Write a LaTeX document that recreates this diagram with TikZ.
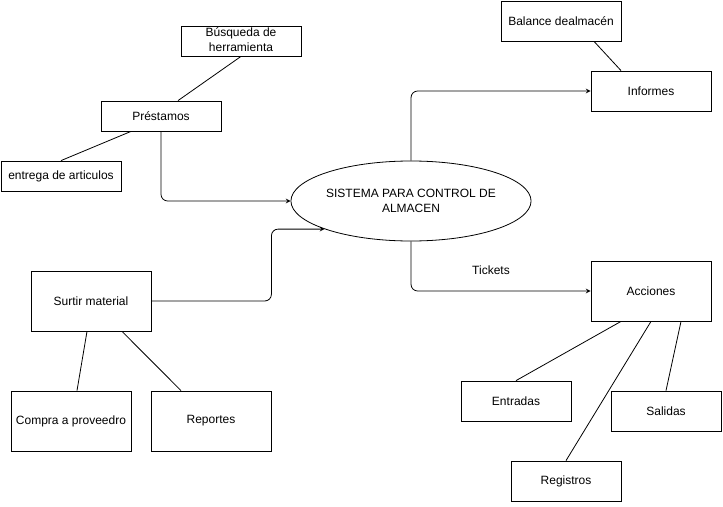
\documentclass[tikz,border=0pt]{standalone}
\usepackage{fontspec}
\setmainfont{Liberation Sans}
\usetikzlibrary{shapes.geometric,calc}
\begin{document}
\begin{tikzpicture}[x=0.75pt, y=-0.75pt, line width=0.6pt,
    caja/.style ={rectangle, draw, inner sep=1pt, minimum width=90pt,
      minimum height=22.5pt, font=\fontsize{9}{11.25}\selectfont, align=center},
    sistema/.style ={ellipse, draw, inner sep=0pt, minimum width=180pt,
      minimum height=60pt, font=\fontsize{9}{11.25}\selectfont, align=center},
    flecha/.style ={->, >=stealth, rounded corners=5pt}]
   \useasboundingbox (0,0) rectangle (723,506);

   \node[sistema] (S)  at (411,201)  {SISTEMA PARA CONTROL DE\\ALMACEN};

   \node[caja] (B)  at (241,41)  {\raisebox{2pt}{\shortstack{B\'usqueda de\\herramienta}}};
   \node[caja] (P)  at (161,116)  {Pr\'estamos};
   \node[caja] (E)  at (61,176)  {entrega de articulos};

   \node[caja, minimum height=30pt] (BA) at (561,21) {Balance dealmac\'en};
   \node[caja, minimum height=30pt] (I)  at (651,91) {Informes};

   \node[caja, minimum height=45pt] (A)  at (651,291) {Acciones};
   \node[caja, minimum width=82.5pt, minimum height=30pt] (EN) at (516,401) {Entradas};
   \node[caja, minimum width=82.5pt, minimum height=30pt] (SA) at (666,411) {Salidas};
   \node[caja, minimum width=82.5pt, minimum height=30pt] (R)  at (566,481) {Registros};

   \node[caja, minimum height=45pt] (M)  at (91,301)  {Surtir material};
   \node[caja, minimum height=45pt] (C)  at (71,421)  {Compra a proveedro};
   \node[caja, minimum height=45pt] (RE) at (211,421) {Reportes};

   \draw (B.south) -- ($(P.north)+(17,0)$);
   \draw ($(P.south)+(-30,0)$) -- (E.north);
   \draw[flecha] (P.south) |- (S.west);

   \draw[flecha] (M.east) -- ++(120,0) |- (S.198);

   \draw[flecha] (S.north) |- (I.west);
   \draw ($(BA.south)+(33,0)$) -- ($(I.north)+(-30,0)$);

   \draw[flecha] (S.south) |- (A.west);
   \node[font=\fontsize{9}{11.25}\selectfont] (T) at (491,270) {Tickets};

   \draw ($(A.south)+(-30,0)$) -- (EN.north);
   \draw (A.south) -- (R.north);
   \draw ($(A.south)+(30,0)$) -- (SA.north);

   \draw ($(M.south)+(-4,0)$) -- ($(C.north)+(6,0)$);
   \draw ($(M.south)+(31,0)$) -- ($(RE.north)+(-30,0)$);

\end{tikzpicture}
\end{document}
